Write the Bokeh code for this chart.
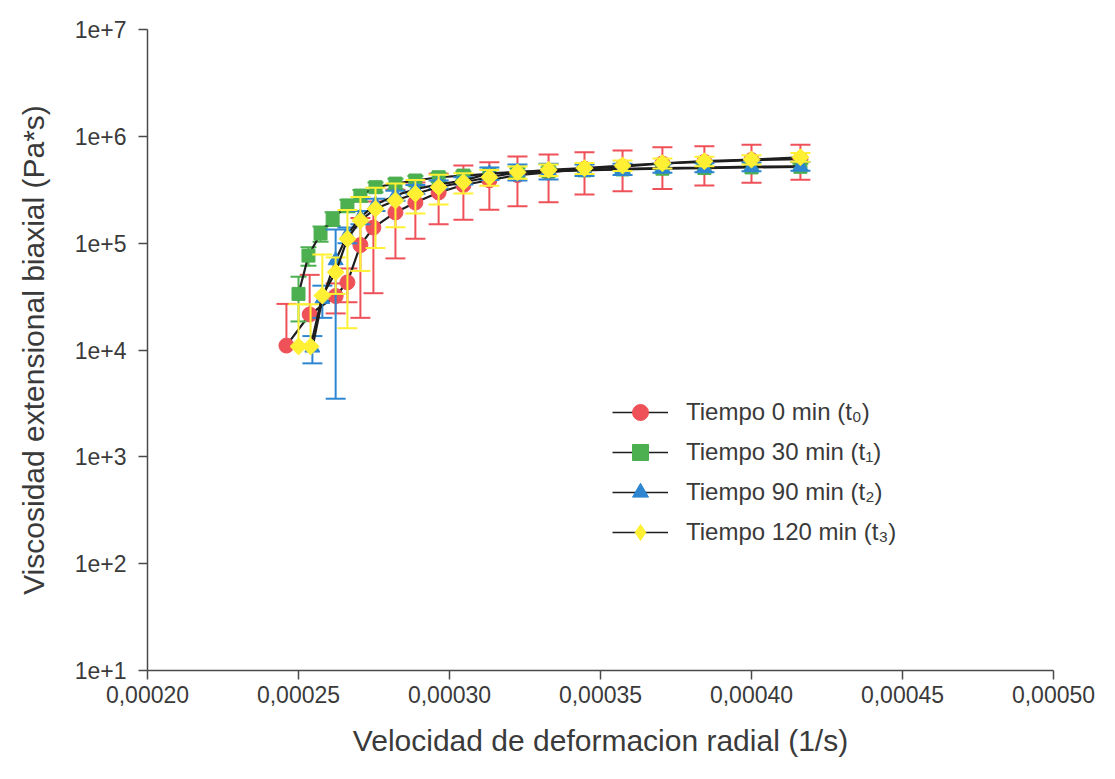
from bokeh.plotting import figure
from bokeh.models import Range1d, FixedTicker, CustomJSTickFormatter, Legend, LegendItem
from bokeh.embed import file_html
from bokeh.resources import INLINE

# ---- data ----
x_t0 = [0.0002460, 0.0002537, 0.0002623, 0.0002662, 0.0002705, 0.0002748, 0.0002821,
        0.0002887, 0.0002964, 0.0003046, 0.0003132, 0.0003225, 0.0003328, 0.0003447,
        0.0003573, 0.0003705, 0.0003844, 0.0004000, 0.0004162]
y_t0 = [1.10e4, 2.15e4, 3.2e4, 4.3e4, 9.6e4, 1.40e5, 1.94e5, 2.40e5, 2.98e5, 3.50e5,
        3.88e5, 4.34e5, 4.59e5, 4.98e5, 5.21e5, 5.57e5, 5.77e5, 6.00e5, 6.12e5]
e_t0 = [1.6e4, 2.9e4, 1.0e4, 1.5e4, 7.6e4, 1.06e5, 1.22e5, 1.30e5, 1.48e5, 1.84e5,
        1.83e5, 2.13e5, 2.17e5, 2.13e5, 2.15e5, 2.35e5, 2.31e5, 2.33e5, 2.20e5]

x_t1 = [0.0002500, 0.0002533, 0.0002573, 0.0002613, 0.0002662, 0.0002705, 0.0002755,
        0.0002821, 0.0002887, 0.0002964, 0.0003046, 0.0003132, 0.0003225, 0.0003328,
        0.0003447, 0.0003573, 0.0003705, 0.0003844, 0.0004000, 0.0004162]
y_t1 = [3.35e4, 7.65e4, 1.23e5, 1.70e5, 2.25e5, 2.79e5, 3.34e5, 3.61e5, 3.86e5, 4.14e5,
        4.29e5, 4.45e5, 4.60e5, 4.70e5, 4.80e5, 4.90e5, 4.98e5, 5.05e5, 5.12e5, 5.18e5]
e_t1 = [1.5e4, 1.5e4, 2.0e4, 2.5e4, 3.0e4, 3.5e4, 3.5e4, 4.0e4, 4.0e4, 4.0e4,
        4.0e4, 4.0e4, 4.0e4, 4.0e4, 4.0e4, 4.0e4, 4.0e4, 4.0e4, 4.0e4, 4.0e4]

x_t2 = [0.0002546, 0.0002579, 0.0002623, 0.0002662, 0.0002705, 0.0002755, 0.0002821,
        0.0002887, 0.0002964, 0.0003046, 0.0003132, 0.0003225, 0.0003328, 0.0003447,
        0.0003573, 0.0003705, 0.0003844, 0.0004000, 0.0004162]
y_t2 = [1.05e4, 3.0e4, 6.9e4, 1.20e5, 1.75e5, 2.30e5, 2.80e5, 3.20e5, 3.55e5, 3.85e5,
        4.50e5, 4.65e5, 4.75e5, 4.85e5, 4.95e5, 5.05e5, 5.10e5, 5.20e5, 5.25e5]
e_t2 = [3.0e3, 1.0e4, 6.55e4, 2.0e4, 2.5e4, 3.0e4, 3.0e4, 3.0e4, 3.0e4, 3.0e4,
        6.0e4, 8.0e4, 8.0e4, 6.0e4, 6.0e4, 5.0e4, 5.0e4, 5.0e4, 5.0e4]

x_t3 = [0.0002500, 0.0002540, 0.0002579, 0.0002623, 0.0002662, 0.0002705, 0.0002755,
        0.0002821, 0.0002887, 0.0002964, 0.0003046, 0.0003132, 0.0003225, 0.0003328,
        0.0003447, 0.0003573, 0.0003705, 0.0003844, 0.0004000, 0.0004162]
y_t3 = [1.08e4, 1.08e4, 3.23e4, 5.35e4, 1.10e5, 1.63e5, 2.10e5, 2.51e5, 2.90e5, 3.34e5,
        3.72e5, 4.14e5, 4.61e5, 4.86e5, 5.03e5, 5.33e5, 5.60e5, 5.85e5, 6.06e5, 6.37e5]
e_t3 = [1.6e4, 1.6e4, 4.6e4, 2.0e4, 9.4e4, 1.08e5, 1.20e5, 1.10e5, 1.00e5, 1.04e5,
        8.0e4, 7.0e4, 6.0e4, 6.0e4, 6.0e4, 6.0e4, 6.0e4, 6.0e4, 6.0e4, 6.0e4]

labels = ["Tiempo 0 min (t\u2080)", "Tiempo 30 min (t\u2081)",
          "Tiempo 90 min (t\u2082)", "Tiempo 120 min (t\u2083)"]
y_ticks = [1e1, 1e2, 1e3, 1e4, 1e5, 1e6, 1e7]
x_ticks = [0.00020, 0.00025, 0.00030, 0.00035, 0.00040, 0.00045, 0.00050]

RED, GREEN, BLUE, YELLOW = "#EF5158", "#4DB050", "#2E86D1", "#FFF033"
FONT = "Liberation Sans"
TXT = "#3a3a3a"
NAN = float("nan")

p = figure(frame_width=906, frame_height=641,
           x_range=Range1d(0.0002, 0.0005), y_range=Range1d(10, 1e7),
           y_axis_type="log", output_backend="svg", toolbar_location=None,
           min_border_left=147, min_border_right=62, min_border_top=29,
           min_border_bottom=109)
p.outline_line_color = None
p.xgrid.visible = False
p.ygrid.visible = False
p.background_fill_color = "white"
p.border_fill_color = "white"

def draw(xs, ys, es, color, marker, size, cap, angle=0.0):
    up = [m + e for m, e in zip(ys, es)]
    # when the lower limit would be <= 0 (log axis), only the upper half is drawn
    lo = [m - e if m - e > 0 else m for m, e in zip(ys, es)]
    p.segment(x0=xs, y0=lo, x1=xs, y1=up, line_color=color, line_width=2)
    p.scatter(x=xs, y=up, marker="dash", size=cap, line_color=color, line_width=2)
    lx = [x for x, m, e in zip(xs, ys, es) if m - e > 0]
    ly = [m - e for m, e in zip(ys, es) if m - e > 0]
    p.scatter(x=lx, y=ly, marker="dash", size=cap, line_color=color, line_width=2)
    p.line(xs, ys, line_color="#1e1e1e", line_width=2.2)
    p.scatter(x=xs, y=ys, marker=marker, size=size, fill_color=color,
              line_color=color, line_width=1, angle=angle)

draw(x_t0, y_t0, e_t0, RED, "circle", 15, 20)
draw(x_t1, y_t1, e_t1, GREEN, "square", 13, 16)
draw(x_t2, y_t2, e_t2, BLUE, "triangle", 15, 20)
draw(x_t3, y_t3, e_t3, YELLOW, "square", 12, 20, angle=0.785398)

# legend proxies (a single NaN point each, never drawn in the plot)
items = []
for lab, col, mk in zip(labels, [RED, GREEN, BLUE, YELLOW],
                        ["circle", "square", "triangle", "diamond"]):
    ln = p.line([NAN], [NAN], line_color="#1e1e1e", line_width=1.5)
    sc = p.scatter([NAN], [NAN], marker=mk, fill_color=col, line_color=col)
    items.append(LegendItem(label=lab, renderers=[ln, sc]))
leg = Legend(items=items, location=(465, 118), glyph_width=56, glyph_height=40,
             label_height=40, spacing=0, padding=0, margin=0,
             border_line_color=None, background_fill_alpha=0,
             label_text_font=FONT, label_text_font_size="24px",
             label_text_color=TXT, label_standoff=18)
p.add_layout(leg, "center")

for ax in (p.xaxis[0], p.yaxis[0]):
    ax.axis_line_color = "#4a4a4a"
    ax.axis_line_width = 1.5
    ax.major_tick_line_color = "#4a4a4a"
    ax.major_tick_line_width = 1.5
    ax.major_tick_out = 9
    ax.major_tick_in = 0
    ax.minor_tick_line_color = None
    ax.major_label_text_font = FONT
    ax.major_label_text_font_size = "23px"
    ax.major_label_text_color = TXT
    ax.axis_label_text_font = FONT
    ax.axis_label_text_font_size = "30px"
    ax.axis_label_text_font_style = "normal"
    ax.axis_label_text_color = TXT

p.yaxis[0].ticker = FixedTicker(ticks=y_ticks)
p.yaxis[0].formatter = CustomJSTickFormatter(
    code="return '1e+' + Math.round(Math.log10(tick));")
p.yaxis[0].axis_label = "Viscosidad extensional biaxial (Pa*s)"
p.yaxis[0].major_label_standoff = 12
p.yaxis[0].axis_label_standoff = 22

p.xaxis[0].ticker = FixedTicker(ticks=x_ticks)
p.xaxis[0].formatter = CustomJSTickFormatter(
    code="return tick.toFixed(5).replace('.', ',');")
p.xaxis[0].axis_label = "Velocidad de deformacion radial (1/s)"
p.xaxis[0].major_label_standoff = 6
p.xaxis[0].axis_label_standoff = 18

open("out.html", "w").write(file_html(p, INLINE))
